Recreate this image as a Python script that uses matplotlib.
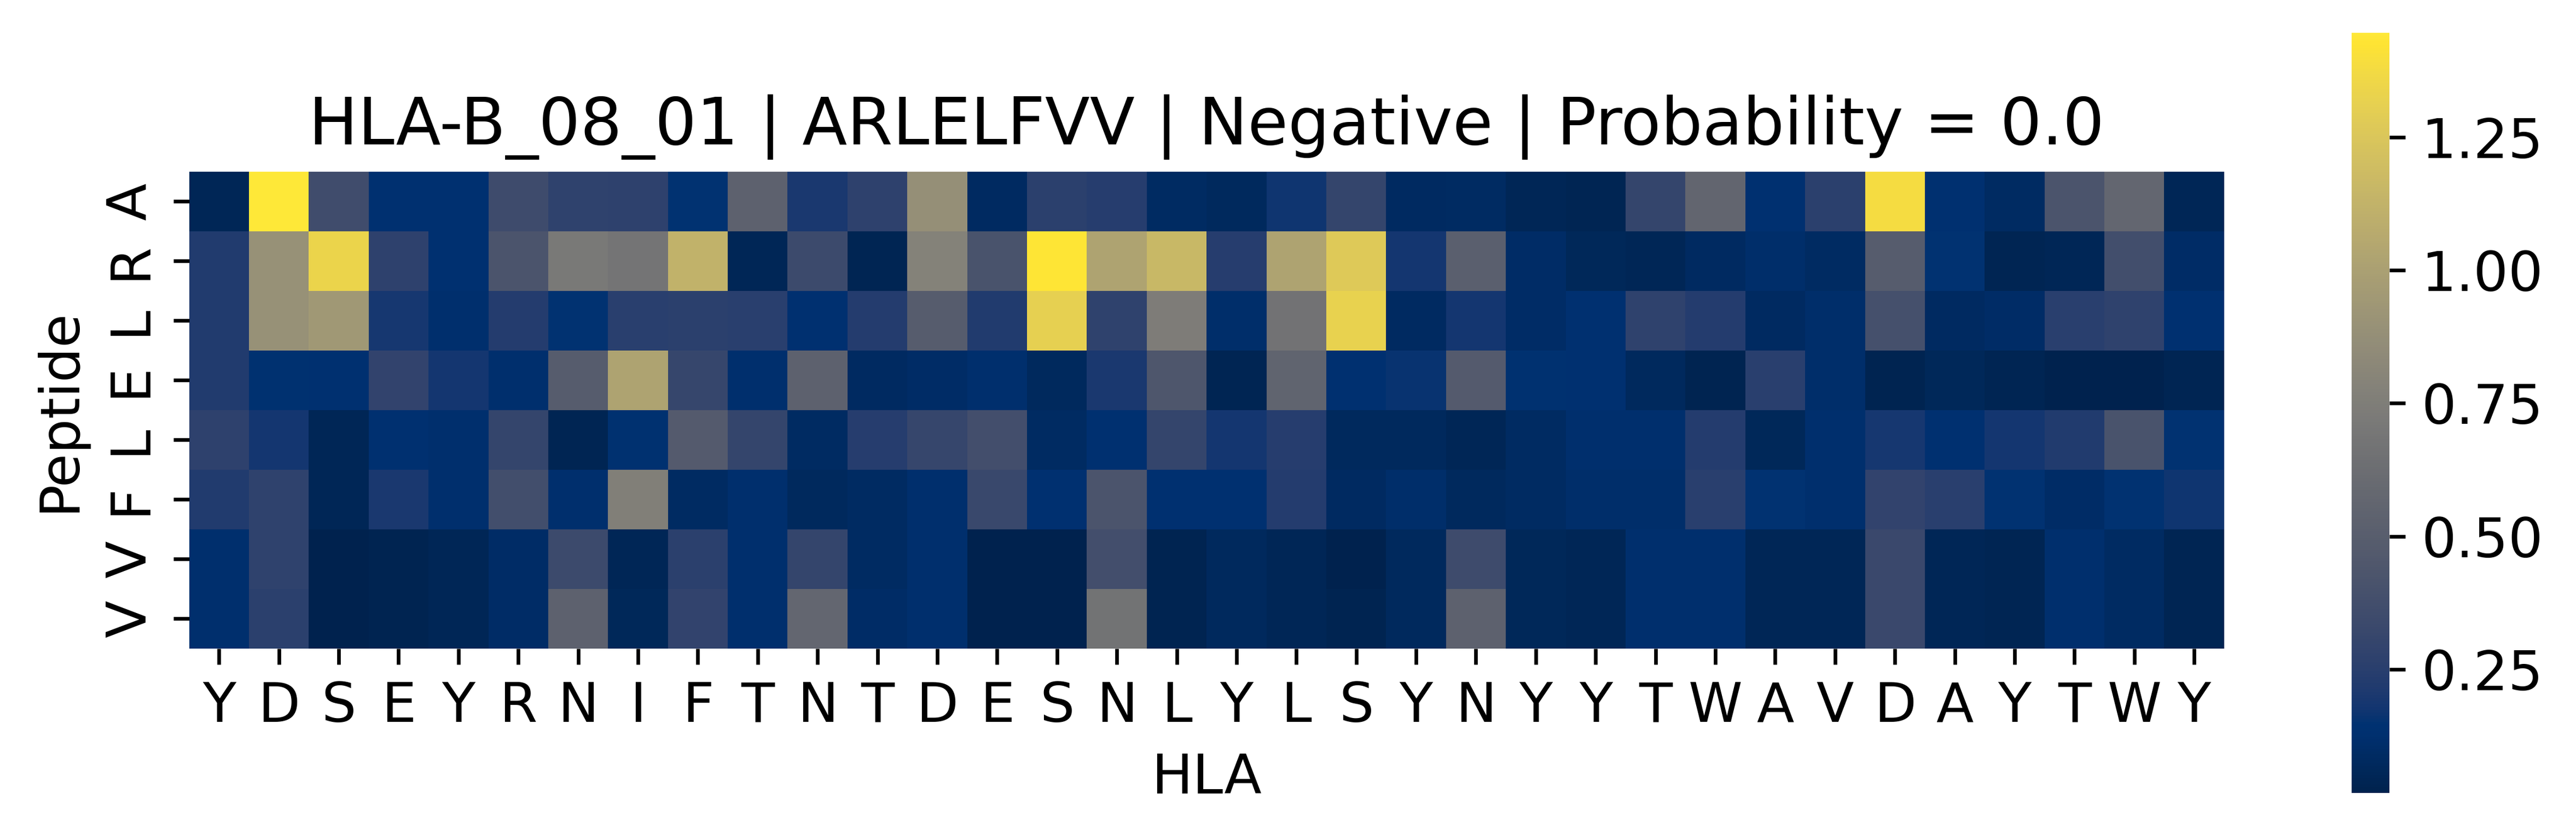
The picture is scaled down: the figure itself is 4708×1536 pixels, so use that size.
import numpy as np
import matplotlib
matplotlib.use("Agg")
import matplotlib.pyplot as plt
import seaborn as sns

hla_labels = list("YDSEYRNIFTNTDESNLYLSYNYYTWAVDAYTWY")
peptide_labels = list("ARLELFVV")

row_A = [0.05, 1.446, 0.36, 0.13, 0.13, 0.35, 0.28, 0.27, 0.15, 0.53, 0.20, 0.27, 0.88, 0.08, 0.26, 0.24, 0.09,
         0.07, 0.17, 0.30, 0.08, 0.09, 0.05, 0.04, 0.30, 0.56, 0.13, 0.26, 1.38, 0.13, 0.09, 0.42, 0.57, 0.05]
row_R = [0.22, 0.89, 1.34, 0.27, 0.13, 0.42, 0.71, 0.68, 1.12, 0.05, 0.34, 0.04, 0.78, 0.41, 1.43, 1.02, 1.16,
         0.24, 1.02, 1.27, 0.18, 0.51, 0.10, 0.06, 0.05, 0.08, 0.11, 0.09, 0.49, 0.15, 0.04, 0.05, 0.37, 0.10]
row_L1 = [0.22, 0.89, 0.94, 0.19, 0.12, 0.23, 0.15, 0.25, 0.26, 0.25, 0.13, 0.23, 0.49, 0.22, 1.31, 0.28, 0.74,
          0.11, 0.66, 1.32, 0.08, 0.18, 0.10, 0.13, 0.28, 0.23, 0.08, 0.11, 0.39, 0.08, 0.10, 0.25, 0.28, 0.13]
row_E = [0.22, 0.14, 0.13, 0.29, 0.18, 0.12, 0.49, 1.02, 0.31, 0.12, 0.53, 0.08, 0.10, 0.12, 0.07, 0.20, 0.44,
         0.04, 0.55, 0.13, 0.16, 0.47, 0.14, 0.13, 0.07, 0.03, 0.25, 0.11, 0.03, 0.06, 0.04, 0.02, 0.018, 0.04]
row_L2 = [0.27, 0.18, 0.05, 0.13, 0.12, 0.30, 0.04, 0.14, 0.47, 0.30, 0.09, 0.24, 0.31, 0.38, 0.09, 0.13, 0.30,
          0.18, 0.24, 0.07, 0.07, 0.05, 0.09, 0.12, 0.12, 0.23, 0.06, 0.12, 0.19, 0.13, 0.18, 0.22, 0.41, 0.15]
row_F = [0.22, 0.28, 0.05, 0.20, 0.12, 0.37, 0.12, 0.76, 0.09, 0.12, 0.07, 0.09, 0.12, 0.32, 0.13, 0.42, 0.13,
         0.13, 0.23, 0.08, 0.11, 0.07, 0.09, 0.11, 0.11, 0.25, 0.15, 0.12, 0.29, 0.25, 0.15, 0.10, 0.15, 0.17]
row_V1 = [0.12, 0.28, 0.02, 0.03, 0.05, 0.10, 0.34, 0.05, 0.26, 0.12, 0.30, 0.09, 0.12, 0.02, 0.02, 0.38, 0.03,
          0.07, 0.05, 0.02, 0.07, 0.35, 0.06, 0.05, 0.12, 0.12, 0.05, 0.05, 0.33, 0.05, 0.04, 0.12, 0.09, 0.04]
row_V2 = [0.12, 0.26, 0.02, 0.03, 0.05, 0.10, 0.53, 0.06, 0.29, 0.12, 0.57, 0.10, 0.12, 0.02, 0.02, 0.67, 0.03,
          0.07, 0.05, 0.03, 0.07, 0.53, 0.06, 0.05, 0.12, 0.12, 0.05, 0.05, 0.33, 0.05, 0.04, 0.12, 0.09, 0.04]

data = np.array([row_A, row_R, row_L1, row_E, row_L2, row_F, row_V1, row_V2])

plt.rcParams['font.size'] = 12
fig = plt.figure(figsize=(4708 / 600, 1536 / 600), dpi=600)
ax = fig.add_axes([0.0734, 0.2279, 0.7900, 0.5677])
cax = fig.add_axes([0.9129, 0.0560, 0.0147, 0.9050])

sns.heatmap(data, cmap="cividis", ax=ax, cbar_ax=cax,
            xticklabels=hla_labels, yticklabels=peptide_labels)
ax.set_xlabel("HLA")
ax.set_ylabel("Peptide")
ax.set_title("HLA-B_08_01 | ARLELFVV | Negative | Probability = 0.0")
cax.set_yticks([0.25, 0.5, 0.75, 1.0, 1.25])
cax.tick_params(labelsize=12)
ax.tick_params(labelsize=12)

fig.savefig("out.png", dpi=600)
